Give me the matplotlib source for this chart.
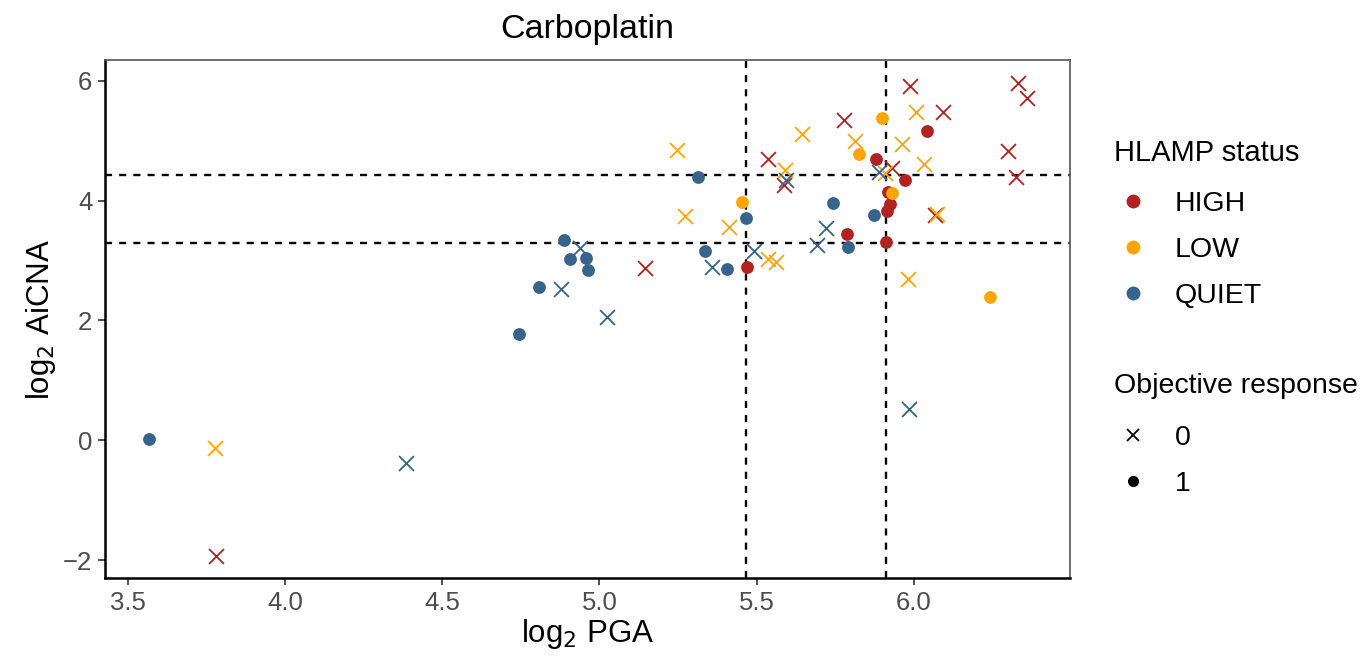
import matplotlib.pyplot as plt
from matplotlib.lines import Line2D
import numpy as np

plt.rcParams['font.family'] = ['Liberation Sans', 'DejaVu Sans']

# log2 PGA / log2 AiCNA per HLAMP status, response 1 = circle, 0 = cross
high_x = [5.468, 5.786, 5.878, 5.971, 5.918, 5.924, 5.915, 5.910, 6.042,
          3.781, 5.144, 5.537, 5.587, 5.779, 5.929, 5.987, 6.091, 6.067, 6.331, 6.358, 6.300, 6.323]
high_y = [2.90, 3.446, 4.698, 4.336, 4.152, 3.947, 3.835, 3.307, 5.170,
          -1.93, 2.873, 4.698, 4.264, 5.349, 4.543, 5.917, 5.471, 3.763, 5.97, 5.711, 4.82, 4.402]
high_r = [1] * 9 + [0] * 13

low_x = [5.454, 5.825, 5.897, 5.929, 6.241,
         3.777, 5.246, 5.272, 5.412, 5.537, 5.561, 5.590, 5.645, 5.813, 5.908, 5.961, 6.005, 6.032, 6.072, 5.982]
low_y = [3.975, 4.776, 5.377, 4.125, 2.386,
         -0.122, 4.848, 3.751, 3.568, 3.023, 2.973, 4.514, 5.115, 4.987, 4.459, 4.943, 5.487, 4.614, 3.78, 2.69]
low_r = [1] * 5 + [0] * 15

quiet_x = [3.569, 4.744, 4.808, 4.888, 4.907, 4.956, 4.965, 5.315, 5.336, 5.405, 5.466, 5.742, 5.791, 5.873,
           4.386, 4.879, 4.939, 5.024, 5.357, 5.492, 5.592, 5.693, 5.720, 5.889, 5.984]
quiet_y = [0.028, 1.771, 2.556, 3.346, 3.023, 3.05, 2.845, 4.402, 3.159, 2.856, 3.708, 3.968, 3.234, 3.763,
           -0.382, 2.533, 3.207, 2.055, 2.89, 3.167, 4.336, 3.262, 3.541, 4.476, 0.524]
quiet_r = [1] * 14 + [0] * 11

vlines = [5.467, 5.911]
hlines = [4.43, 3.30]

groups = [("HIGH", high_x, high_y, high_r, "#B22222"),
          ("LOW", low_x, low_y, low_r, "#FFA500"),
          ("QUIET", quiet_x, quiet_y, quiet_r, "#36648B")]

fig = plt.figure(figsize=(13.7, 6.57), dpi=100)
ax = fig.add_axes([0.0766, 0.120, 0.7044, 0.789])

for name, xs, ys, rs, col in groups:
    xs, ys, rs = np.array(xs), np.array(ys), np.array(rs)
    ax.scatter(xs[rs == 1], ys[rs == 1], s=85, marker='o', color=col, linewidths=0, zorder=3)
    ax.scatter(xs[rs == 0], ys[rs == 0], s=115, marker='x', color=col, linewidths=1.3, zorder=3)

for v in vlines:
    ax.axvline(v, color='black', linestyle=(0, (3, 3)), linewidth=1.7, zorder=2)
for h in hlines:
    ax.axhline(h, color='black', linestyle=(0, (3, 3)), linewidth=1.7, zorder=2)

ax.set_xlim(3.428, 6.496)
ax.set_ylim(-2.30, 6.35)
ax.set_xticks([3.5, 4.0, 4.5, 5.0, 5.5, 6.0])
ax.set_xticklabels(["3.5", "4.0", "4.5", "5.0", "5.5", "6.0"])
ax.set_yticks([-2, 0, 2, 4, 6])
ax.set_yticklabels(["\u22122", "0", "2", "4", "6"])
ax.tick_params(labelsize=18.5, labelcolor='#4D4D4D', length=5, width=1.2, color='#333333', pad=4)

for s in ['left', 'bottom']:
    ax.spines[s].set_linewidth(1.8)
    ax.spines[s].set_color('black')
for s in ['top', 'right']:
    ax.spines[s].set_linewidth(1.2)
    ax.spines[s].set_color('#555555')

ax.set_xlabel("log$_2$ PGA", fontsize=22.5, labelpad=2)
ax.set_ylabel("log$_2$ AiCNA", fontsize=22.5, labelpad=4)
ax.set_title("Carboplatin", fontsize=24.5, pad=16)

h1 = [Line2D([], [], marker='o', linestyle='', color=c, markersize=10, markeredgewidth=0, label=n)
      for n, _, _, _, c in groups]
leg1 = fig.legend(handles=h1, title="HLAMP status", loc='upper left', bbox_to_anchor=(0.8045, 0.80),
                  frameon=False, fontsize=20.5, title_fontsize=21, alignment='left',
                  handletextpad=0.76, labelspacing=0.7, handlelength=1.4, borderaxespad=0)
leg1.get_title().set_position((0, 4))

h2 = [Line2D([], [], marker='x', linestyle='', color='black', markersize=9, markeredgewidth=1.3, label="0"),
      Line2D([], [], marker='o', linestyle='', color='black', markersize=8, markeredgewidth=0, label="1")]
leg2 = fig.legend(handles=h2, title="Objective response", loc='upper left', bbox_to_anchor=(0.8045, 0.44),
                  frameon=False, fontsize=20.5, title_fontsize=20.5, alignment='left',
                  handletextpad=0.76, labelspacing=0.7, handlelength=1.4, borderaxespad=0)
leg2.get_title().set_position((0, 6))

fig.savefig("out.png", dpi=100)
